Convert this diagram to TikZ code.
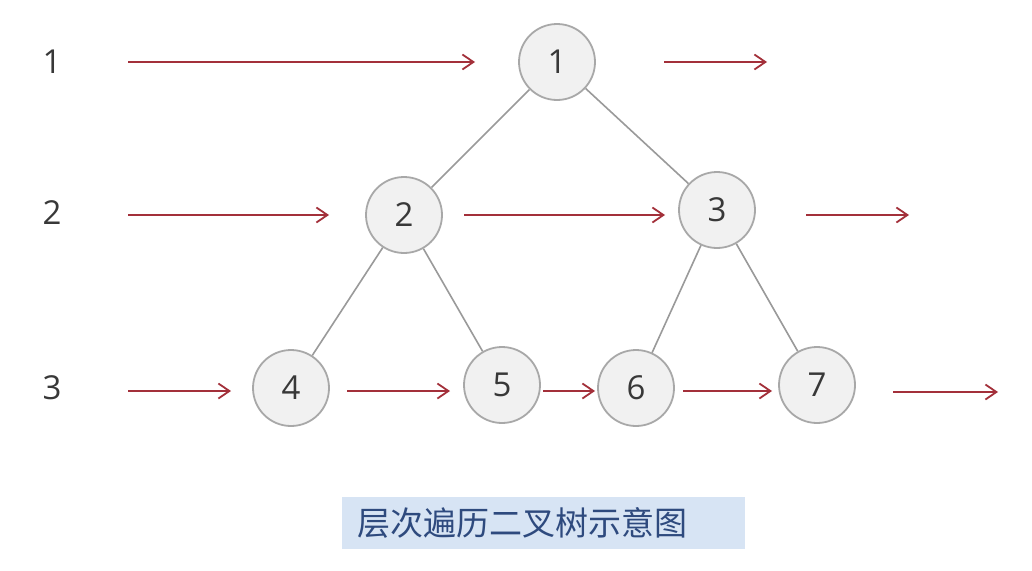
\documentclass[tikz,border=0pt]{standalone}
\usepackage{fontspec}
\setmainfont{Open Sans}
\newfontfamily\cjk{Noto Sans CJK SC}
\usetikzlibrary{arrows.meta}
\definecolor{arrred}{HTML}{A3303A}
\definecolor{circfill}{HTML}{F1F1F1}
\definecolor{circline}{HTML}{A8A8A8}
\definecolor{edgegray}{HTML}{9A9A9A}
\definecolor{txtgray}{HTML}{383838}
\definecolor{capfill}{HTML}{D7E4F4}
\definecolor{captxt}{HTML}{2E4A7E}
\tikzset{
  tnode/.style={circle, draw=circline, line width=1.8pt, fill=circfill, minimum size=76pt, inner sep=0pt, font=\fontsize{33}{38}\selectfont, text=txtgray},
  tedge/.style={draw=edgegray, line width=1.6pt},
  arr/.style={draw=arrred, line width=1.8pt, -{Straight Barb[length=11pt,width=15pt,line width=1.8pt]}},
  lvl/.style={font=\fontsize{33}{38}\selectfont, text=txtgray}
}
\begin{document}
\begin{tikzpicture}[x=1pt,y=-1pt]
\useasboundingbox[fill=white] (0,0) rectangle (1032,570);
% level labels
\node[lvl] (l1) at (52,62) {1};
\node[lvl] (l2) at (52,213) {2};
\node[lvl] (l3) at (52,388) {3};
% tree nodes
\node[tnode] (n1) at (557,62) {1};
\node[tnode] (n2) at (404,215) {2};
\node[tnode] (n3) at (717,210) {3};
\node[tnode] (n4) at (291,388) {4};
\node[tnode] (n5) at (502,385) {5};
\node[tnode] (n6) at (636,388) {6};
\node[tnode] (n7) at (817,385) {7};
% edges
\draw[tedge] (n1) -- (n2);
\draw[tedge] (n1) -- (n3);
\draw[tedge] (n2) -- (n4);
\draw[tedge] (n2) -- (n5);
\draw[tedge] (n3) -- (n6);
\draw[tedge] (n3) -- (n7);
% arrow coordinates
\coordinate (a1s) at (128,62);  \coordinate (a1e) at (475,62);
\coordinate (b1s) at (664,62);  \coordinate (b1e) at (767,62);
\coordinate (a2s) at (128,215); \coordinate (a2e) at (329,215);
\coordinate (b2s) at (464,215); \coordinate (b2e) at (665,215);
\coordinate (c2s) at (806,215); \coordinate (c2e) at (909,215);
\coordinate (a3s) at (128,391); \coordinate (a3e) at (231,391);
\coordinate (b3s) at (347,391); \coordinate (b3e) at (450,391);
\coordinate (c3s) at (543,391); \coordinate (c3e) at (595,391);
\coordinate (d3s) at (683,391); \coordinate (d3e) at (772,391);
\coordinate (e3s) at (893,392); \coordinate (e3e) at (998,392);
\draw[arr] (a1s) -- (a1e);
\draw[arr] (b1s) -- (b1e);
\draw[arr] (a2s) -- (a2e);
\draw[arr] (b2s) -- (b2e);
\draw[arr] (c2s) -- (c2e);
\draw[arr] (a3s) -- (a3e);
\draw[arr] (b3s) -- (b3e);
\draw[arr] (c3s) -- (c3e);
\draw[arr] (d3s) -- (d3e);
\draw[arr] (e3s) -- (e3e);
% caption
\fill[capfill] (342,497) rectangle (745,549);
\node[font=\cjk\fontsize{33}{38}\selectfont, text=captxt, anchor=west] (cap) at (354,523) {层次遍历二叉树示意图};
\end{tikzpicture}
\end{document}
